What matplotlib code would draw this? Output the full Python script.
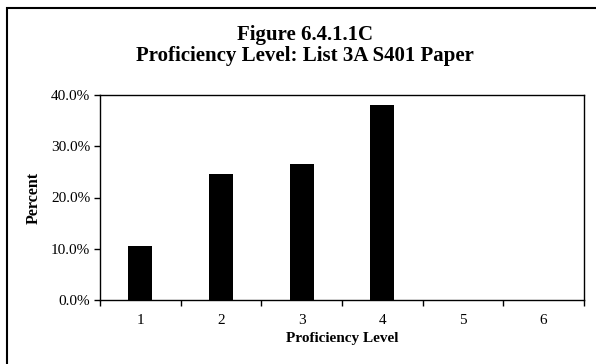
import matplotlib
matplotlib.use("Agg")
import matplotlib.pyplot as plt
from matplotlib.patches import Rectangle
from matplotlib.ticker import FuncFormatter, FixedLocator

# ----------------------------------------------------------------------
# Data
# ----------------------------------------------------------------------
levels = ["1", "2", "3", "4", "5", "6"]
percent = [10.6, 24.6, 26.5, 38.0, 0.0, 0.0]
title_lines = ["Figure 6.4.1.1C", "Proficiency Level: List 3A S401 Paper"]
x_label = "Proficiency Level"
y_label = "Percent"

plt.rcParams["font.family"] = ["Liberation Serif", "DejaVu Serif"]

fig = plt.figure(figsize=(5.96, 3.64), dpi=100)
ax = fig.add_axes([100 / 596, 1 - 300 / 364, 484 / 596, 205 / 364])

x = list(range(1, len(levels) + 1))
ax.bar(x, percent, width=0.3, color="black", linewidth=0)

ax.set_xlim(0.5, len(levels) + 0.5)
ax.set_ylim(0, 40)
ax.set_yticks([0, 10, 20, 30, 40])
ax.yaxis.set_major_formatter(FuncFormatter(lambda v, _: f"{v:.1f}%"))

# category labels centred, ticks on the category boundaries
ax.set_xticks(x)
ax.set_xticklabels(levels)
ax.tick_params(axis="x", which="major", length=0, pad=10, labelsize=11)
ax.xaxis.set_minor_locator(FixedLocator([i + 0.5 for i in range(len(levels) + 1)]))
ax.tick_params(axis="x", which="minor", length=4, width=1, direction="out")
ax.tick_params(axis="y", length=4, width=1, direction="out", labelsize=11, pad=3)

for sp in ax.spines.values():
    sp.set_linewidth(1)
    sp.set_color("black")

ax.set_xlabel(x_label, fontsize=11, fontweight="bold", labelpad=4)
ax.set_ylabel(y_label, fontsize=11.5, fontweight="bold", labelpad=7)

fig.text(305 / 596, 1 - 40 / 364, title_lines[0], ha="center", va="baseline",
         fontsize=15, fontweight="bold")
fig.text(305 / 596, 1 - 61.5 / 364, title_lines[1], ha="center", va="baseline",
         fontsize=15, fontweight="bold")

# outer chart-area border (only left and top edges fall inside the image)
fig.patches.append(Rectangle((7 / 596, -0.1), 1.2, 1 - 8 / 364 + 0.1,
                             transform=fig.transFigure, fill=False,
                             edgecolor="black", linewidth=1.5))

fig.savefig("out.png", dpi=100)
